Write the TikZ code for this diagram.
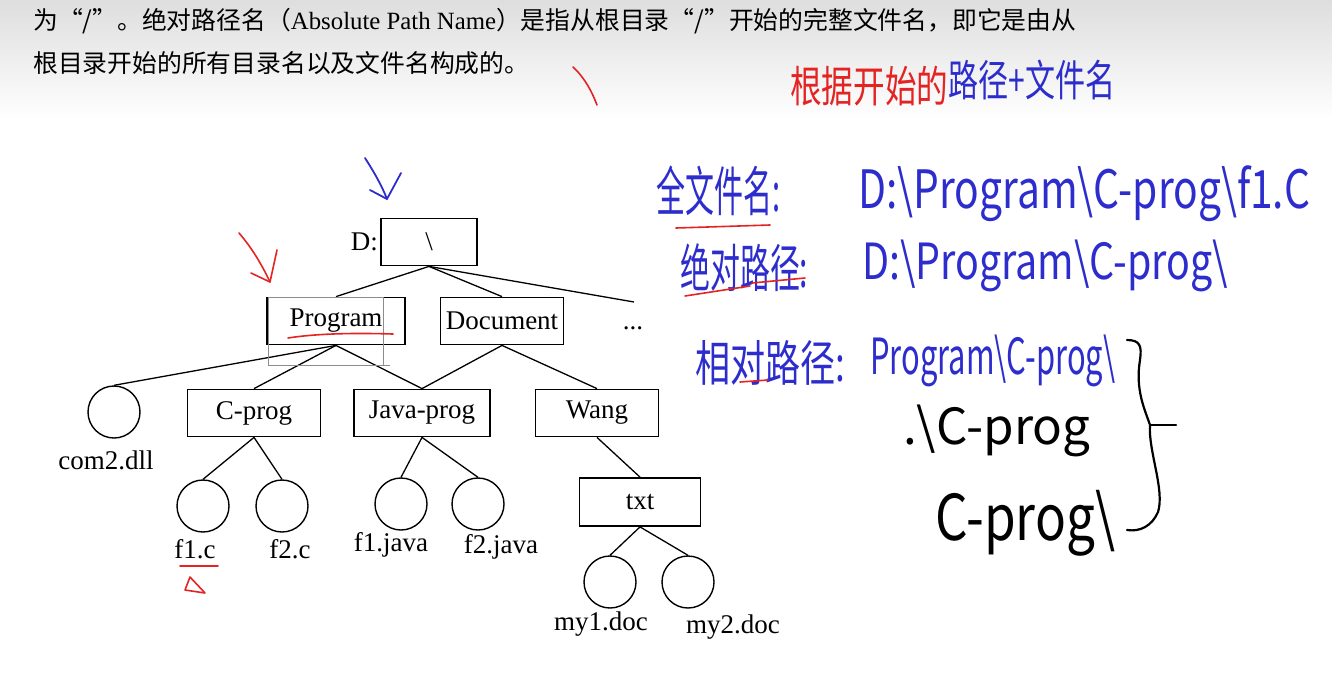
\documentclass[tikz,border=0pt]{standalone}
\usepackage{fontspec}
\setmainfont{Liberation Serif}
\newfontfamily\cjk{Noto Sans CJK SC}
\newfontfamily\hand{Noto Sans CJK SC}[Scale=1]
\usetikzlibrary{shapes.geometric}
\definecolor{hblue}{RGB}{45,45,205}
\definecolor{hred}{RGB}{228,35,35}
\newcommand{\fitto}[3]{\resizebox*{#1pt}{#2pt}{#3}}
\begin{document}
\begin{tikzpicture}[x=1pt,y=-1pt,
  dirbox/.style={draw, line width=1.8pt, minimum height=47pt, inner sep=0pt, font=\fontsize{27}{29}\selectfont},
  filec/.style={draw, line width=1.4pt, circle, minimum size=52pt, inner sep=0pt},
  lab/.style={font=\fontsize{27}{29}\selectfont, inner sep=0pt},
  edge/.style={line width=1.3pt},
  hwn/.style={inner sep=0pt, anchor=north west},
  redpen/.style={hred, line width=1.6pt, line cap=round, line join=round},
  bluepen/.style={hblue, line width=1.8pt, line cap=round, line join=round},
  blackpen/.style={black, line width=2.2pt, line cap=round, line join=round}
]
\useasboundingbox (0,0) rectangle (1332,689);
\shade[top color=black!13, bottom color=white] (0,0) rectangle (1332,120);

% textbook text
\node[anchor=west, inner sep=0pt, font=\fontsize{24.8}{26}\selectfont] (t1) at (33,21)
  {{\cjk 为“/”。绝对路径名（}Absolute Path Name{\cjk ）是指从根目录“/”开始的完整文件名，即它是由从}};
\node[anchor=west, inner sep=0pt, font=\fontsize{24.8}{26}\selectfont] (t2) at (33,63)
  {{\cjk 根目录开始的所有目录名以及文件名构成的。}};

% tree
\node[dirbox, minimum width=96pt] (root) at (429,242) {\textbackslash};
\node[lab, anchor=east] (dl) at (378,242) {D:};
\node[dirbox, minimum width=138pt] (prog) at (336,321) {Program};
\node[dirbox, minimum width=123pt] (doc) at (502,321) {Document};
\node[lab] (dots) at (633,328) {...};
\coordinate (more) at (634,302);
\node[dirbox, minimum width=133pt] (cprog) at (254,413) {C-prog};
\node[dirbox, minimum width=136pt] (java) at (422,413) {Java-prog};
\node[dirbox, minimum width=123pt] (wang) at (597,413) {Wang};
\node[dirbox, minimum width=121pt, minimum height=48pt] (txt) at (640,502) {txt};

\node[filec] (com2) at (114,412) {};
\node[lab] (com2l) at (106,460) {com2.dll};
\node[filec] (f1c) at (203,506) {};
\node[lab] (f1cl) at (195,549) {f1.c};
\node[filec] (f2c) at (282,506) {};
\node[lab] (f2cl) at (290,549) {f2.c};
\node[filec] (f1j) at (401,504) {};
\node[lab] (f1jl) at (391,545) {f1.java};
\node[filec] (f2j) at (478,504) {};
\node[lab] (f2jl) at (501,547) {f2.java};
\node[filec] (my1) at (610,582) {};
\node[lab] (my1l) at (601,624) {my1.doc};
\node[filec] (my2) at (688,582) {};
\node[lab] (my2l) at (733,627) {my2.doc};

\draw[edge] (root.south) -- (prog.north);
\draw[edge] (root.south) -- (doc.north);
\draw[edge] (root.south) -- (more);
\draw[edge] (prog.south) -- (com2.north);
\draw[edge] (prog.south) -- (cprog.north);
\draw[edge] (prog.south) -- (java.north);
\draw[edge] (doc.south) -- (java.north);
\draw[edge] (doc.south) -- (wang.north);
\draw[edge] (cprog.south) -- (f1c.north);
\draw[edge] (cprog.south) -- (f2c.north);
\draw[edge] (java.south) -- (f1j.north);
\draw[edge] (java.south) -- (f2j.north);
\draw[edge] (wang.south) -- (txt.north);
\draw[edge] (txt.south) -- (my1.north);
\draw[edge] (txt.south) -- (my2.north);

% thin grey selection frame
\draw[black!45, line width=0.7pt] (268,297) rectangle (383,365);
\draw[black!45, line width=0.7pt] (383,365) -- (390,365);

% pen marks on the tree
\draw[redpen] (239,233) .. controls (252,248) and (262,265) .. (270,282);
\draw[redpen] (251,273) -- (270,282) -- (277,250);
\draw[bluepen] (365,158) .. controls (374,172) and (382,186) .. (387,199);
\draw[bluepen] (370,190) -- (387,199) -- (401,173);
\draw[redpen] (288,338) .. controls (320,333) and (360,333) .. (393,334);
\draw[redpen] (180,566) -- (218,566);
\draw[redpen] (190,577) -- (185,590) -- (205,593) -- (190,577);
\draw[redpen] (573,67) .. controls (585,78) and (592,92) .. (597,105);

% handwritten notes
\node[hwn, text=hred] (n1a) at (790,66) {\fitto{158}{40}{\hand 根据开始的}};
\node[hwn, text=hblue] (n1b) at (948,60) {\fitto{167}{40}{\hand 路径+文件名}};

\node[hwn, text=hblue] (qw) at (656,166) {\fitto{124}{50}{\hand 全文件名:}};
\draw[redpen] (676,228) -- (770,225);
\node[hwn, text=hblue] (qp) at (858,166) {\fitto{452}{56}{\hand D:\textbackslash Program\textbackslash C-prog\textbackslash f1.C}};

\node[hwn, text=hblue] (jd) at (680,243) {\fitto{128}{48}{\hand 绝对路径:}};
\draw[redpen] (685,296) -- (750,286);
\draw[redpen] (752,283) -- (805,278);
\node[hwn, text=hblue] (jp) at (862,240) {\fitto{366}{52}{\hand D:\textbackslash Program\textbackslash C-prog\textbackslash}};

\node[hwn, text=hblue] (xd) at (695,340) {\fitto{150}{45}{\hand 相对路径:}};
\draw[redpen] (740,382) -- (768,380);
\node[hwn, text=hblue] (xp) at (870,335) {\fitto{245}{52}{\hand Program\textbackslash C-prog\textbackslash}};

\node[hwn, text=black] (r1) at (903,405) {\fitto{187}{52}{\hand .\textbackslash C-prog}};
\node[hwn, text=black] (r2) at (935,490) {\fitto{180}{66}{\hand C-prog\textbackslash}};

\draw[blackpen] (1127,340) .. controls (1140,340) and (1142,346) .. (1140,360)
  .. controls (1135,390) and (1145,410) .. (1150,425)
  .. controls (1148,450) and (1165,490) .. (1158,512)
  .. controls (1152,526) and (1140,532) .. (1127,530);
\draw[blackpen] (1150,425) -- (1176,425);
\end{tikzpicture}
\end{document}
